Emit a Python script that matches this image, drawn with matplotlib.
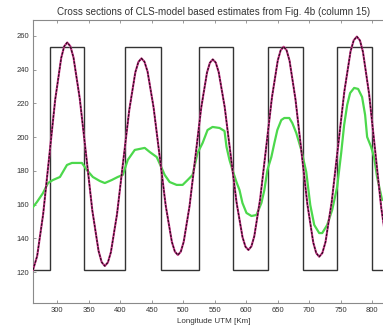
import matplotlib
matplotlib.use("Agg")
import matplotlib.pyplot as plt

plt.rcParams['font.family'] = ['Liberation Sans', 'DejaVu Sans']

# Longitude (UTM, km) of the edges of the true square-wave profile and its levels
box_edges = [261.5, 288.4, 342.8, 407.2, 465.3, 524.9, 578.7, 634.2, 689.6, 745.0, 799.5, 840.0]
box_levels = [121.5, 253.5, 121.5, 253.5, 121.5, 253.5, 121.5, 253.5, 121.5, 253.5, 121.5]

# Smooth model profile
model_x = [261.5, 268.1, 277.6, 287.2, 296.7, 306.3, 311.0, 315.8, 320.8, 325.8,
           335.7, 345.7, 355.6, 365.6, 370.5, 375.5, 380.4, 385.2, 394.9, 404.6,
           414.3, 424.0, 428.9, 433.7, 438.5, 443.4, 453.0, 462.7, 472.3, 482.0,
           486.8, 491.6, 496.2, 500.8, 510.1, 519.3, 528.5, 537.8, 542.4, 547.0,
           551.7, 556.4, 565.9, 575.3, 584.7, 594.2, 598.9, 603.6, 608.3, 612.9,
           622.2, 631.6, 640.9, 650.2, 654.8, 659.5, 664.2, 668.9, 678.3, 687.8,
           697.2, 706.6, 711.3, 716.0, 721.0, 726.0, 735.9, 745.9, 755.9, 765.8,
           770.8, 775.8, 780.7, 785.5, 795.2, 804.9, 814.6, 824.3, 829.2, 834.0]
model_y = [121.4, 129.6, 154.4, 188.3, 222.1, 246.9, 253.7, 256.0, 253.8, 247.1,
           222.9, 189.9, 156.8, 132.6, 126.0, 123.7, 125.8, 131.9, 154.4, 185.2,
           215.9, 238.4, 244.5, 246.6, 244.6, 238.8, 217.5, 188.4, 159.3, 138.0,
           132.2, 130.2, 132.2, 138.0, 159.2, 188.1, 217.1, 238.2, 244.0, 246.0,
           244.1, 238.4, 217.8, 189.6, 161.4, 140.8, 135.1, 133.2, 135.3, 141.3,
           163.3, 193.4, 223.4, 245.4, 251.4, 253.5, 251.4, 245.2, 222.4, 191.4,
           160.3, 137.5, 131.3, 129.2, 131.4, 137.9, 161.8, 194.4, 227.0, 250.8,
           257.3, 259.5, 257.2, 250.4, 225.6, 191.8, 157.9, 133.1, 126.3, 124.0]

# CLS-model based estimate (column 15)
cls_x = [261.5, 267.8, 277.4, 285.3, 293.2, 304.3, 315.4, 323.3, 339.1, 347.0,
         356.5, 367.6, 375.5, 386.6, 396.1, 404.1, 412.0, 423.1, 438.9, 446.8,
         457.9, 465.8, 470.6, 478.5, 489.6, 499.1, 507.0, 514.9, 522.8, 530.8,
         538.7, 546.6, 557.7, 565.6, 568.8, 573.5, 578.3, 584.6, 589.4, 594.1,
         600.5, 608.4, 616.3, 624.2, 628.9, 633.7, 640.0, 644.8, 649.5, 655.8,
         660.6, 668.5, 673.3, 679.6, 687.5, 695.4, 701.8, 708.1, 716.0, 720.8,
         728.7, 736.6, 744.5, 750.9, 755.6, 760.4, 765.1, 771.5, 777.8, 784.1,
         788.9, 792.1, 798.4, 803.1, 807.9, 815.8]
cls_y = [158.6, 161.6, 166.9, 172.8, 174.6, 176.4, 183.5, 184.7, 184.7, 180.5,
         176.4, 174.0, 172.8, 174.6, 176.4, 177.6, 186.5, 192.4, 193.6, 191.2,
         188.2, 181.7, 177.6, 173.4, 171.7, 171.7, 174.6, 177.6, 190.6, 196.5,
         204.2, 206.0, 205.4, 203.6, 194.2, 186.5, 180.5, 173.4, 168.7, 161.0,
         155.1, 153.3, 153.9, 161.0, 168.7, 180.5, 188.2, 196.5, 204.2, 210.1,
         211.3, 211.3, 208.3, 202.4, 192.4, 179.4, 159.8, 148.0, 143.2, 143.2,
         148.0, 156.9, 170.5, 190.6, 207.2, 219.0, 226.1, 229.1, 228.5, 223.7,
         213.1, 200.1, 194.2, 188.2, 176.4, 162.8]

x_ticks = [300, 350, 400, 450, 500, 550, 600, 650, 700, 750, 800]
y_ticks = [120, 140, 160, 180, 200, 220, 240, 260]

fig = plt.figure(figsize=(3.83, 3.27), dpi=100)
ax = fig.add_axes([0.0862, 0.0734, 0.9452, 0.8654])

ax.stairs(box_levels, box_edges, baseline=None, color='#333333', linewidth=1.0, zorder=2)
ax.plot(cls_x, cls_y, color='#4cd84c', linewidth=1.6, zorder=3)
ax.plot(model_x, model_y, color='#c8388a', linewidth=1.5, zorder=4)
ax.plot(model_x, model_y, color='#2a0a1c', linewidth=0.9, dashes=(2.0, 1.0), zorder=5)

ax.set_xlim(261.5, 836.4)
ax.set_ylim(101.8, 269.3)
ax.set_xticks(x_ticks)
ax.set_yticks(y_ticks)

for s in ax.spines.values():
    s.set_color('#8a8a8a')
    s.set_linewidth(0.8)
ax.tick_params(direction='in', length=2.5, width=0.6, color='#8a8a8a',
               labelsize=5.5, labelcolor='#333333', top=True, right=True, pad=3)

ax.set_title('Cross sections of CLS-model based estimates from Fig. 4b (column 15)',
             fontsize=7.1, color='#333333', pad=3.5)
ax.set_xlabel('Longitude UTM [Km]', fontsize=5.8, color='#333333', labelpad=2.5)

fig.savefig('out.png', dpi=100)
